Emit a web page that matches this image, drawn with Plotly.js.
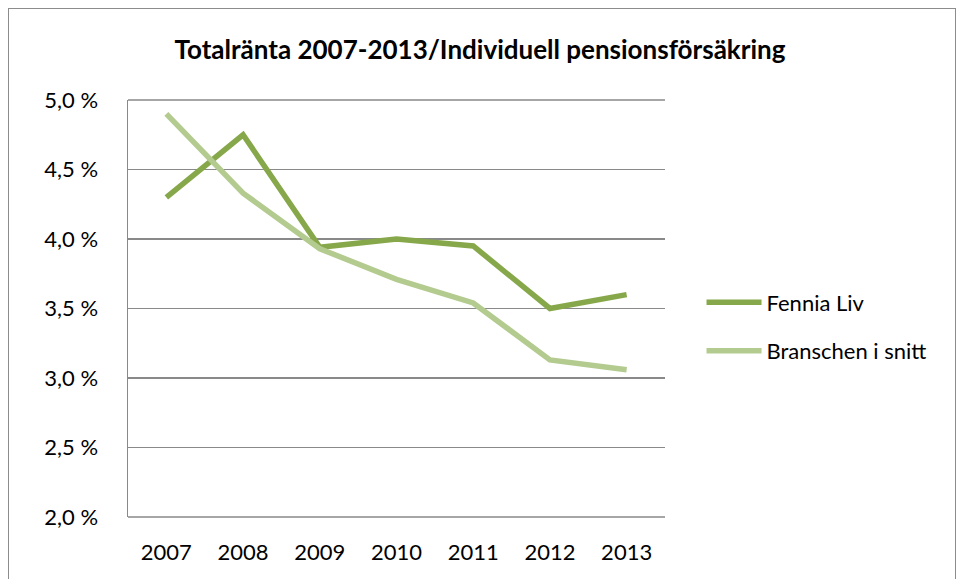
<!DOCTYPE html>
<html>
<head>
<meta charset="utf-8">
<script src="https://cdn.plot.ly/plotly-3.0.1.min.js"></script>
<style>
  html, body { margin: 0; padding: 0; background: #fff; }
  #frame { position: absolute; left: 8px; top: 8px; width: 948px; height: 600px; border: 1.5px solid #8c8c8c; box-sizing: border-box; }
  #chart { position: absolute; left: 0; top: 0; width: 960px; height: 579px; }
</style>
</head>
<body>
<div id="frame"></div>
<div id="chart"></div>
<script>
// år och totalränta (%)
var years = ["2007", "2008", "2009", "2010", "2011", "2012", "2013"];
var fennia = [4.30, 4.75, 3.94, 4.00, 3.95, 3.50, 3.60];
var bransch = [4.90, 4.33, 3.93, 3.71, 3.54, 3.13, 3.06];

var fnt = "Lato, 'Open Sans', sans-serif";

var trace1 = {
  x: years,
  y: fennia,
  type: 'scatter',
  mode: 'lines',
  name: 'Fennia Liv',
  legendgroup: 'a',
  line: { color: '#86a84a', width: 5.5 }
};

var trace2 = {
  x: years,
  y: bransch,
  type: 'scatter',
  mode: 'lines',
  name: 'Branschen i snitt',
  legendgroup: 'b',
  line: { color: '#b3cb8f', width: 5.5 }
};

var layout = {
  width: 960,
  height: 579,
  paper_bgcolor: 'rgba(0,0,0,0)',
  plot_bgcolor: 'rgba(0,0,0,0)',
  separators: ', ',
  margin: { l: 128, r: 295, t: 100, b: 62 },
  font: { family: fnt, size: 22, color: '#000' },
  title: {
    text: '<b>Totalränta 2007-2013/Individuell pensionsförsäkring</b>',
    font: { family: fnt, size: 26, color: '#000' },
    x: 0.5, xref: 'container', xanchor: 'center',
    y: 53, yref: 'container', yanchor: 'middle'
  },
  xaxis: {
    type: 'category',
    range: [-0.5, 6.5],
    showgrid: false,
    showline: false,
    ticks: '',
    ticklabelstandoff: 20,
    zeroline: false
  },
  yaxis: {
    range: [2, 5],
    dtick: 0.5,
    tick0: 2,
    tickformat: '.1f',
    ticksuffix: ' %',
    showgrid: true,
    gridcolor: '#898989',
    gridwidth: 1.5,
    showline: true,
    linecolor: '#898989',
    linewidth: 1.5,
    ticks: '',
    ticklabelstandoff: 24,
    zeroline: false
  },
  showlegend: true,
  legend: {
    x: 1.068, xanchor: 'left',
    y: 0.456, yanchor: 'middle',
    itemwidth: 55,
    tracegroupgap: 17,
    font: { family: fnt, size: 22, color: '#000' },
    bgcolor: 'rgba(0,0,0,0)'
  },
  shapes: [{
    type: 'line', xref: 'paper', yref: 'paper',
    x0: 0, x1: 1, y0: 0, y1: 0,
    line: { color: '#898989', width: 1.5 }
  }, {
    type: 'line', xref: 'paper', yref: 'paper',
    x0: 0, x1: 1, y0: 1, y1: 1,
    line: { color: '#898989', width: 1.5 }
  }]
};

Plotly.newPlot('chart', [trace1, trace2], layout, { displayModeBar: false, staticPlot: true });
</script>
</body>
</html>
